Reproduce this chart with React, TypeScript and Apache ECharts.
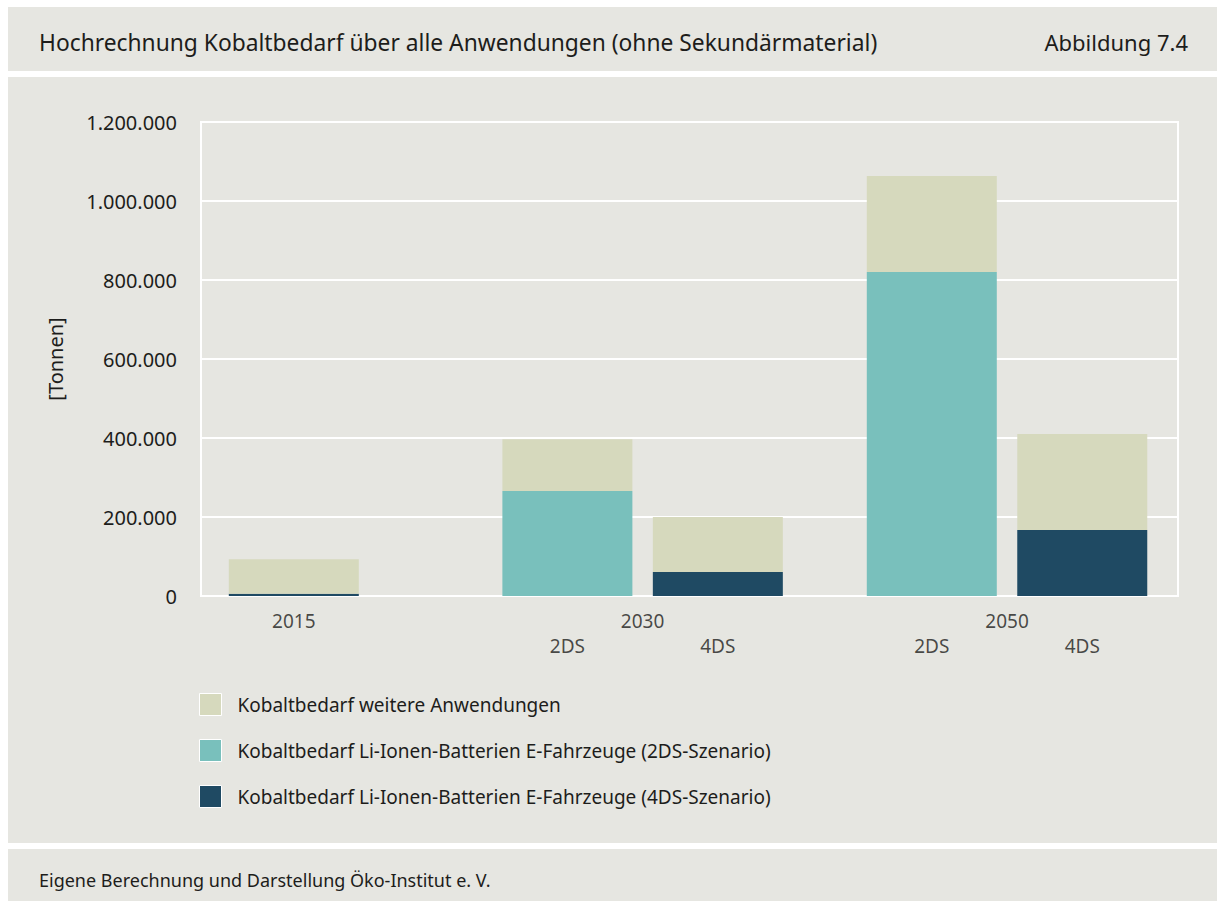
import React, { useEffect, useRef } from "react";
import * as echarts from "echarts";

// Slots along the x axis (percent of plot width, layout only)
const slotPos = [9.5, 37.5, 52.9, 74.8, 90.2];
const slotScenario = ["", "2DS", "4DS", "2DS", "4DS"];
const years = ["2015", "2030", "2050"];
const yearPos = [9.5, 45.2, 82.5];

// Values in tonnes per slot (null = no bar)
const weitere = [87000, 131000, 139000, 243000, 243000];
const batt2DS = [null, 266000, null, 820000, null];
const batt4DS = [6000, null, 61000, null, 167000];

const yTicks = [0, 200000, 400000, 600000, 800000, 1000000, 1200000];

const seriesNames = [
  "Kobaltbedarf weitere Anwendungen",
  "Kobaltbedarf Li-Ionen-Batterien E-Fahrzeuge (2DS-Szenario)",
  "Kobaltbedarf Li-Ionen-Batterien E-Fahrzeuge (4DS-Szenario)",
];

const title = "Hochrechnung Kobaltbedarf über alle Anwendungen (ohne Sekundärmaterial)";
const figLabel = "Abbildung 7.4";
const source = "Eigene Berechnung und Darstellung Öko-Institut e. V.";
const yName = "[Tonnen]";

const FONT = "'Noto Sans', sans-serif";
const TXT = "#1d1d1b";
const PANEL = "#e6e6e1";
const C_WEITERE = "#d6d9bd";
const C_2DS = "#79c0bc";
const C_4DS = "#1f4a63";

const fmt = (v: number) => String(v).replace(/\B(?=(\d{3})+(?!\d))/g, ".");

// value first, position second (encode maps them) so stacking acts on the value
const toData = (arr: (number | null)[]) =>
  arr.map((v, i) => [v == null ? "-" : v, slotPos[i]]);

export default function App() {
  const ref = useRef<HTMLDivElement>(null);
  useEffect(() => {
    if (!ref.current) return;
    const chart = echarts.init(ref.current, null, { renderer: "svg" });
    const barBase = {
      type: "bar",
      stack: "a",
      barWidth: 130,
      encode: { x: 1, y: 0 },
      dimensions: ["v", "pos"],
    };
    chart.setOption({
      animation: false,
      backgroundColor: "#ffffff",
      textStyle: { fontFamily: FONT, color: TXT },
      graphic: [
        { type: "rect", z: -10, shape: { x: 8, y: 7, width: 1209, height: 64 }, style: { fill: PANEL } },
        { type: "rect", z: -10, shape: { x: 8, y: 77, width: 1209, height: 766 }, style: { fill: PANEL } },
        { type: "rect", z: -10, shape: { x: 8, y: 849, width: 1209, height: 60 }, style: { fill: PANEL } },
        {
          type: "text", x: 39, y: 42,
          style: { text: title, fontFamily: FONT, fontSize: 22.8, fill: TXT, verticalAlign: "middle", align: "left" },
        },
        {
          type: "text", x: 1188, y: 42,
          style: { text: figLabel, fontFamily: FONT, fontSize: 22, fill: TXT, verticalAlign: "middle", align: "right" },
        },
        {
          type: "text", x: 39, y: 880,
          style: { text: source, fontFamily: FONT, fontSize: 18, fill: TXT, verticalAlign: "middle", align: "left" },
        },
      ],
      grid: {
        left: 201, top: 122, right: 39, bottom: 305,
        show: true, borderColor: "#ffffff", borderWidth: 2, backgroundColor: "transparent",
      },
      legend: {
        orient: "vertical",
        left: 199, top: 693,
        padding: 0,
        itemWidth: 22, itemHeight: 22, itemGap: 23,
        icon: "rect",
        data: seriesNames,
        selectedMode: false,
        itemStyle: { borderColor: "#ffffff", borderWidth: 1 },
        textStyle: { fontFamily: FONT, fontSize: 19, color: TXT, padding: [0, 0, 0, 11] },
      },
      xAxis: {
        type: "value", min: 0, max: 100,
        show: false,
        splitLine: { show: false },
      },
      yAxis: {
        type: "value", min: yTicks[0], max: yTicks[yTicks.length - 1], interval: 200000,
        name: yName, nameLocation: "middle", nameRotate: 90, nameGap: 136,
        nameTextStyle: { fontFamily: FONT, fontSize: 20, color: TXT },
        axisLine: { show: false }, axisTick: { show: false },
        axisLabel: { formatter: (v: number) => fmt(v), fontFamily: FONT, fontSize: 20, color: TXT, margin: 24 },
        splitLine: { lineStyle: { color: "#ffffff", width: 2 } },
      },
      series: [
        { ...barBase, name: seriesNames[2], itemStyle: { color: C_4DS }, data: toData(batt4DS) },
        { ...barBase, name: seriesNames[1], itemStyle: { color: C_2DS }, data: toData(batt2DS) },
        { ...barBase, name: seriesNames[0], itemStyle: { color: C_WEITERE }, data: toData(weitere) },
        {
          type: "scatter", symbolSize: 0, silent: true, legendHoverLink: false,
          data: years.map((y, i) => ({ value: [yearPos[i], 0], name: y })),
          label: {
            show: true, position: "inside", offset: [0, 25],
            formatter: (p: any) => p.name,
            fontFamily: FONT, fontSize: 19, color: TXT,
          },
        },
        {
          type: "scatter", symbolSize: 0, silent: true, legendHoverLink: false,
          data: slotScenario
            .map((s, i) => ({ value: [slotPos[i], 0], name: s }))
            .filter((d) => d.name !== ""),
          label: {
            show: true, position: "inside", offset: [0, 50],
            formatter: (p: any) => p.name,
            fontFamily: FONT, fontSize: 19, color: TXT,
          },
        },
      ],
    });
    return () => chart.dispose();
  }, []);
  return (
    <div
      ref={ref}
      style={{ position: "absolute", left: 0, top: 0, width: 1217, height: 901 }}
    />
  );
}
